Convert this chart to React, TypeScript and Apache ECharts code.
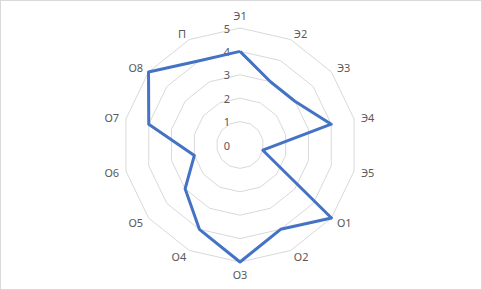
import React, { useEffect, useRef } from "react";
import * as echarts from "echarts";

const categories = ["Э1", "Э2", "Э3", "Э4", "Э5", "О1", "О2", "О3", "О4", "О5", "О6", "О7", "О8", "П"];
const values = [4, 3, 3, 4, 1, 5, 4, 5, 4, 3, 2, 4, 5, 4];
const maxValue = 5;

export default function App() {
  const ref = useRef<HTMLDivElement>(null);
  useEffect(() => {
    if (!ref.current) return;
    const chart = echarts.init(ref.current, null, { renderer: "svg" });
    const font = "'Noto Sans', sans-serif";
    // ECharts radar runs counter-clockwise; reorder so the picture runs clockwise.
    const order = [0, ...categories.map((_, i) => i).slice(1).reverse()];
    const cats = order.map((i) => categories[i]);
    const vals = order.map((i) => values[i]);
    chart.setOption({
      animation: false,
      backgroundColor: "transparent",
      radar: {
        center: [240, 145],
        radius: 117,
        startAngle: 90,
        shape: "polygon",
        splitNumber: 5,
        nameGap: 7,
        axisName: { color: "#595959", fontSize: 11, fontFamily: font },
        axisLine: { show: false },
        axisTick: { show: false },
        axisLabel: { show: false },
        splitArea: { show: false },
        splitLine: { lineStyle: { color: "#d9d9d9", width: 1 } },
        indicator: cats.map((name, i) => ({
          name,
          min: 0,
          max: maxValue,
          axisLabel:
            i === 0
              ? { show: true, color: "#595959", fontSize: 11, fontFamily: font, margin: 10, showMinLabel: true, showMaxLabel: true }
              : { show: false },
        })),
      },
      series: [
        {
          type: "radar",
          symbol: "none",
          lineStyle: { color: "#4472C4", width: 3 },
          data: [{ value: vals }],
        },
      ],
    });
    return () => chart.dispose();
  }, []);
  return (
    <div
      style={{
        position: "absolute",
        left: 0,
        top: 0,
        width: 482,
        height: 290,
        boxSizing: "border-box",
        border: "1px solid #d9d9d9",
        background: "#fff",
      }}
    >
      <div ref={ref} style={{ position: "absolute", left: -1, top: -1, width: 482, height: 290 }} />
    </div>
  );
}
